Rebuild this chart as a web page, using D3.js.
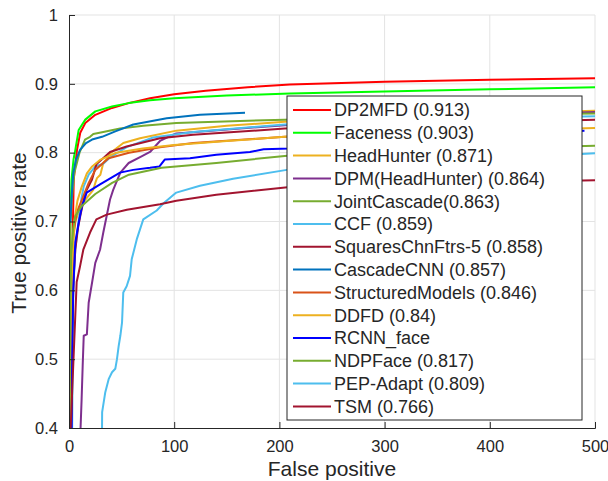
<!DOCTYPE html>
<html>
<head>
<meta charset="utf-8">
<script src="https://cdn.jsdelivr.net/npm/d3@7"></script>
<style>
  body { margin: 0; background: #fff; }
  svg text { font-family: "Liberation Sans", Arial, sans-serif; fill: #262626; }
</style>
</head>
<body>
<div id="chart"></div>
<script>
var w = 608;
var h = 481;

// tick values
var xTicks = [0, 100, 200, 300, 400, 500];
var yTicks = [0.4, 0.5, 0.6, 0.7, 0.8, 0.9, 1];

// legend labels, in legend order
var labels = ["DP2MFD (0.913)", "Faceness (0.903)", "HeadHunter (0.871)", "DPM(HeadHunter) (0.864)",
  "JointCascade(0.863)", "CCF (0.859)", "SquaresChnFtrs-5 (0.858)", "CascadeCNN (0.857)",
  "StructuredModels (0.846)", "DDFD (0.84)", "RCNN_face", "NDPFace (0.817)",
  "PEP-Adapt (0.809)", "TSM (0.766)"];
var colors = ["#ff0000", "#00ff00", "#edb120", "#7e2f8e", "#77ac30", "#4dbeee", "#a2142f",
  "#0072bd", "#d95319", "#edb120", "#0000ff", "#77ac30", "#4dbeee", "#a2142f"];

// curves: [false positives, true positive rate]
var dp2mfd = [[3,0.62],[4,0.72],[4.5,0.761],[7.6,0.804],[10.7,0.829],[15.5,0.843],[25,0.855],[40.9,0.865],[56.7,0.872],[77,0.879],[100,0.885],[130,0.89],[170,0.895],[210,0.899],[300,0.903],[400,0.906],[500,0.908]];
var faceness = [[1.4,0.708],[2.4,0.761],[4.3,0.79],[6,0.804],[9.2,0.833],[15.5,0.848],[25,0.86],[40.9,0.867],[56.7,0.872],[77,0.876],[100,0.879],[150,0.883],[210,0.886],[300,0.889],[400,0.892],[500,0.895]];
var headHunter = [[0.5,0.4],[1,0.54],[1.5,0.6],[3,0.66],[6,0.7],[12,0.725],[20,0.74],[23,0.746],[25,0.756],[26.6,0.763],[29.8,0.768],[32.6,0.785],[37.7,0.795],[39,0.799],[51.6,0.814],[67.5,0.821],[102,0.832],[150,0.839],[205,0.845],[300,0.851],[400,0.857],[500,0.861]];
var dpmHeadHunter = [[11,0.4],[12,0.442],[13,0.49],[14,0.534],[17,0.536],[18.7,0.582],[21.9,0.611],[25,0.64],[29.5,0.659],[32.6,0.684],[39,0.732],[42,0.746],[48.8,0.771],[56.7,0.785],[69.4,0.795],[77,0.801],[86.5,0.817],[93,0.822],[102,0.828],[205,0.84],[300,0.848],[400,0.854],[500,0.859]];
var jointCascade = [[1,0.4],[1,0.6],[1.5,0.7],[2.5,0.73],[5,0.77],[10,0.8],[15.2,0.819],[20,0.823],[23.1,0.827],[32.6,0.83],[48.5,0.835],[70.6,0.839],[102,0.843],[140,0.845],[205,0.848],[300,0.852],[400,0.855],[500,0.857]];
var ccf = [[3,0.4],[4,0.6],[6,0.66],[9,0.7],[12,0.735],[14,0.751],[18.7,0.768],[25,0.78],[32.6,0.784],[39,0.793],[54.8,0.808],[80,0.822],[118,0.83],[205,0.841],[300,0.846],[400,0.85],[500,0.853]];
var squares = [[2,0.4],[3,0.55],[4.5,0.622],[6,0.659],[8.5,0.69],[10.7,0.708],[15.5,0.742],[21.9,0.761],[26,0.783],[39,0.801],[54.8,0.809],[86.5,0.821],[118,0.826],[205,0.835],[300,0.84],[400,0.844],[500,0.848]];
var cascadeCNN = [[1.2,0.699],[2.9,0.746],[4.1,0.771],[6.7,0.79],[10.5,0.804],[16.2,0.814],[21.9,0.819],[31.4,0.823],[44,0.831],[61.1,0.841],[92.9,0.85],[124.5,0.855],[167.3,0.858]];
var structuredModels = [[1,0.4],[2,0.6],[4,0.68],[7.3,0.713],[12.4,0.732],[18.7,0.756],[25,0.775],[37.7,0.792],[57,0.8],[86.5,0.808],[118,0.814],[205,0.823],[300,0.827],[400,0.831],[480,0.833]];
var ddfd = [[1.5,0.4],[2,0.55],[3,0.63],[5,0.7],[8,0.73],[12,0.75],[17,0.77],[22,0.78],[30,0.79],[45,0.8],[70,0.806],[100,0.811],[150,0.817],[205,0.823],[300,0.828],[400,0.832],[500,0.836]];
var rcnnFace = [[2.5,0.4],[3,0.5],[4,0.6],[6,0.67],[9.2,0.698],[12,0.72],[16.8,0.742],[29.5,0.754],[48.5,0.771],[61,0.775],[77,0.778],[86,0.78],[91,0.79],[115,0.792],[140,0.797],[172,0.801],[185,0.805],[210,0.806],[300,0.816],[400,0.825],[490,0.832]];
var ndpFace = [[0.5,0.4],[1,0.55],[2,0.65],[4,0.69],[6,0.708],[12.4,0.723],[25,0.74],[41,0.756],[57,0.768],[88,0.778],[140,0.785],[210,0.796],[300,0.801],[400,0.806],[500,0.81]];
var pepAdapt = [[31.4,0.4],[31.5,0.423],[34.5,0.452],[37.7,0.471],[40.9,0.481],[44,0.486],[45.6,0.5],[47.2,0.519],[48.8,0.534],[50.4,0.553],[51.6,0.597],[54.8,0.606],[58,0.621],[59.6,0.645],[64.4,0.674],[70.6,0.703],[83.4,0.716],[89.6,0.726],[102,0.742],[124.5,0.752],[156,0.762],[207,0.775],[300,0.783],[400,0.791],[500,0.799]];
var tsm = [[1.6,0.4],[4,0.49],[7.3,0.612],[10.5,0.635],[13.6,0.659],[20,0.684],[26,0.703],[35.8,0.71],[55,0.717],[86.5,0.725],[102,0.73],[140,0.739],[210,0.75],[300,0.753],[400,0.757],[500,0.76]];

var series = [dp2mfd, faceness, headHunter, dpmHeadHunter, jointCascade, ccf, squares,
  cascadeCNN, structuredModels, ddfd, rcnnFace, ndpFace, pepAdapt, tsm];

var plotL = 69, plotR = 595, plotT = 15, plotB = 428;

var svg = d3.select("#chart")
  .append("svg")
  .attr("width", w)
  .attr("height", h);

var xScale = d3.scaleLinear().domain([0, 500]).range([plotL, plotR]);
var yScale = d3.scaleLinear().domain([0.4, 1]).range([plotB, plotT]);

// grid
svg.append("g").selectAll("line")
  .data(xTicks.slice(1))
  .enter().append("line")
  .attr("x1", function (d) { return xScale(d); })
  .attr("x2", function (d) { return xScale(d); })
  .attr("y1", plotT).attr("y2", plotB)
  .attr("stroke", "#e3e3e3").attr("stroke-width", 1);
svg.append("g").selectAll("line")
  .data(yTicks.slice(1))
  .enter().append("line")
  .attr("x1", plotL).attr("x2", plotR)
  .attr("y1", function (d) { return yScale(d); })
  .attr("y2", function (d) { return yScale(d); })
  .attr("stroke", "#e3e3e3").attr("stroke-width", 1);

// curves, clipped to the axes
svg.append("clipPath").attr("id", "plotclip")
  .append("rect").attr("x", plotL).attr("y", plotT)
  .attr("width", plotR - plotL).attr("height", plotB - plotT);

var line = d3.line()
  .x(function (d) { return xScale(d[0]); })
  .y(function (d) { return yScale(d[1]); });

svg.append("g").attr("clip-path", "url(#plotclip)")
  .selectAll("path")
  .data(series)
  .enter().append("path")
  .attr("d", line)
  .attr("fill", "none")
  .attr("stroke", function (d, i) { return colors[i]; })
  .attr("stroke-width", 2)
  .attr("stroke-linejoin", "round");

// axes (ticks point inward)
var xAxis = d3.axisBottom(xScale).tickValues(xTicks).tickSize(-6).tickPadding(12).tickFormat(d3.format("d"));
var yAxis = d3.axisLeft(yScale).tickValues(yTicks).tickSize(-6).tickPadding(11)
  .tickFormat(function (d) { return d === 1 ? "1" : d3.format(".1f")(d); });

var gx = svg.append("g").attr("transform", "translate(0," + plotB + ")").call(xAxis);
var gy = svg.append("g").attr("transform", "translate(" + plotL + ",0)").call(yAxis);
[gx, gy].forEach(function (g) {
  g.select(".domain").attr("stroke", "#262626");
  g.selectAll(".tick line").attr("stroke", "#262626");
  g.selectAll(".tick text").attr("font-size", "16.5px")
    .attr("font-family", "Liberation Sans, Arial, sans-serif").attr("fill", "#262626");
});

// axis titles
svg.append("text")
  .attr("x", (plotL + plotR) / 2).attr("y", 476)
  .attr("text-anchor", "middle").attr("font-size", "21px")
  .text("False positive");
svg.append("text")
  .attr("transform", "translate(26,233) rotate(-90)")
  .attr("text-anchor", "middle").attr("font-size", "21px")
  .text("True positive rate");

// legend
var legX = 287, legY = 96, legW = 295, legH = 324, rowH = 22.8;
var leg = svg.append("g");
leg.append("rect")
  .attr("x", legX).attr("y", legY).attr("width", legW).attr("height", legH)
  .attr("fill", "#fff").attr("stroke", "#262626").attr("stroke-width", 1);
var rows = leg.selectAll("g")
  .data(labels)
  .enter().append("g")
  .attr("transform", function (d, i) { return "translate(" + legX + "," + (legY + 14 + i * rowH) + ")"; });
rows.append("line")
  .attr("x1", 6).attr("x2", 44).attr("y1", 0).attr("y2", 0)
  .attr("stroke", function (d, i) { return colors[i]; })
  .attr("stroke-width", 2);
rows.append("text")
  .attr("x", 47).attr("y", 0).attr("dy", "0.35em")
  .attr("font-size", "18px").attr("fill", "#000")
  .text(function (d) { return d; });
</script>
</body>
</html>
